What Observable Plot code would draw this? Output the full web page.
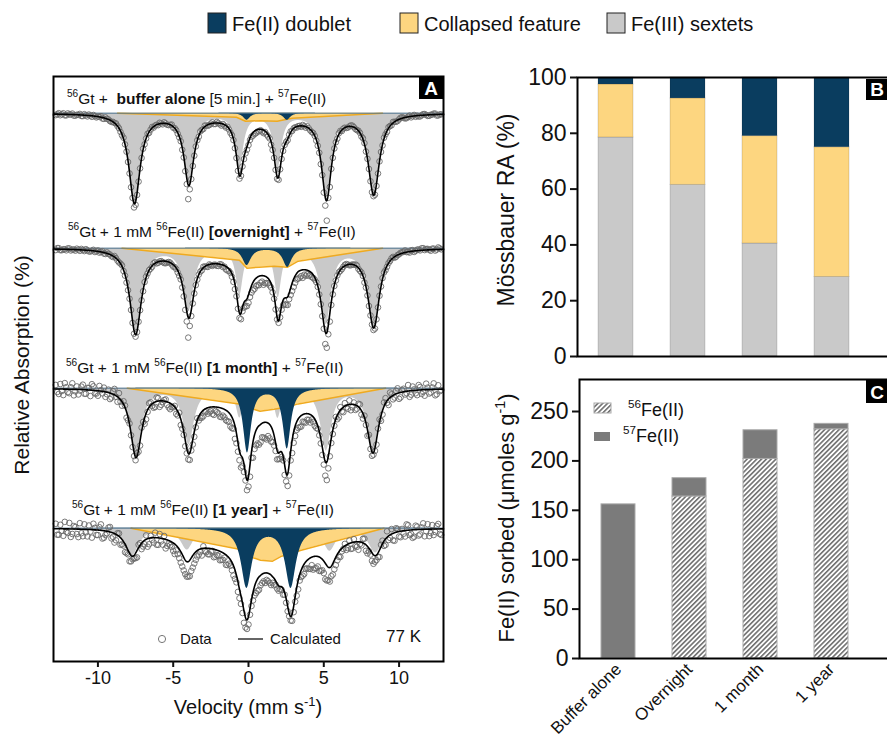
<!DOCTYPE html>
<html><head><meta charset="utf-8">
<script src="https://cdn.jsdelivr.net/npm/d3@7"></script>
<script src="https://cdn.jsdelivr.net/npm/@observablehq/plot@0.6"></script>
<style>
html,body{margin:0;padding:0;background:#fff;overflow:hidden;}
#root{position:relative;width:887px;height:739px;overflow:hidden;font-family:"Liberation Sans",Arial,sans-serif;color:#111;}
.plotbox{position:absolute;}
.plotbox svg{max-width:none;overflow:visible;display:block;}
</style></head><body><div id="root"></div>
<script>
// ---------------- DATA ----------------
const categories = ["Buffer alone", "Overnight", "1 month", "1 year"];
const componentNames = ["Fe(II) doublet", "Collapsed feature", "Fe(III) sextets"];

// Panel B: Mössbauer relative areas (%)
const raSextet = [78.5, 61.5, 40.5, 28.5];
const raCollapsed = [19, 31, 38.5, 46.5];
const raDoublet = [2.5, 7.5, 21, 25];
const raTicks = [0, 20, 40, 60, 80, 100];

// Panel C: Fe(II) sorbed (µmoles/g)
const isotopes = ["56Fe(II)", "57Fe(II)"];
const sorbed56 = [0, 164, 202, 232];
const sorbed57 = [156, 18.5, 29, 5.5];
const sorbedTicks = [0, 50, 100, 150, 200, 250];

// Panel A: Mössbauer spectra, fitted components (velocity mm/s, absorption %)
const velocityTicks = [-10, -5, 0, 5, 10];
const spectrumOffsets = [3.67, 17.17, 31.17, 45.17];
const sextetPos = [
  [-7.57, -3.96, -0.58, 1.95, 5.18, 8.32],
  [-7.5, -3.96, -0.58, 1.97, 5.16, 8.32],
  [-7.47, -3.96, -0.58, 1.95, 5.16, 8.27],
  [-7.72, -4.07, -0.6, 2.0, 5.4, 8.44]];
const sextetDepth = [
  [8.9, 6.8, 5.3, 5.3, 8.2, 8.0],
  [8.4, 6.1, 4.5, 4.7, 7.4, 7.7],
  [6.7, 5.5, 2.8, 2.8, 6.1, 6.1],
  [2.7, 2.1, 1.2, 1.2, 2.2, 2.4]];
const sextetWidth = [
  [0.9, 0.78, 0.62, 0.62, 0.78, 0.9],
  [0.92, 0.8, 0.55, 0.55, 0.8, 0.92],
  [0.9, 0.85, 0.55, 0.55, 0.85, 0.9],
  [1.1, 1.0, 0.65, 0.65, 1.0, 1.1]];
const doubletPos = [[-0.1, 2.57], [-0.1, 2.6], [-0.07, 2.57], [-0.11, 2.82]];
const doubletDepth = [[0.7, 0.7], [1.7, 1.9], [6.4, 6.0], [5.9, 5.9]];
const doubletWidth = [[0.55, 0.55], [0.7, 0.7], [0.63, 0.63], [0.85, 0.85]];
const collapsedV = [
  [-8.7, -0.8, -0.2, 0.8, 1.9, 2.9, 8.9],
  [-8.4, -0.6, -0.1, 0.7, 1.7, 2.6, 3.3, 8.9],
  [-8.05, -0.64, 0.1, 0.77, 1.7, 2.5, 3.31, 9.1],
  [-7.8, -0.7, 0.0, 0.8, 1.6, 2.2, 3.5, 9.0]];
const collapsedD = [
  [0, 0.4, 0.8, 0.75, 0.8, 0.5, 0],
  [0, 1.2, 2.0, 1.9, 1.8, 1.9, 1.3, 0],
  [0, 1.57, 2.0, 2.3, 2.1, 1.9, 1.57, 0],
  [0, 2.07, 2.8, 3.2, 3.3, 2.8, 2.2, 0]];

// measured channels (two interleaved halves): deviation of the data from the fit, in 0.1 % units
const channelsEven = {start: -12.8, step: 0.2, count: 129};
const channelsOdd = {start: -12.7, step: 0.2, count: 128};
const residualsEven = [
 [1,-1,0,1,-1,0,1,0,-1,1, 0,-1,1,0,0,-1,1,0,1,0, -1,0,1,0,1,2,4,2,0,-1, 0,1,-1,0,1,0,-1,1,0,1,
  0,1,2,4,14,3,1,0,-1,1, 0,1,-1,1,0,2,1,0,2,1, 2,3,1,2,3,2,3,2,1,3, 2,1,2,2,3,1,0,1,-1,0,
  1,0,-1,1,0,1,0,1,3,6, 20,6,1,0,-1,1,0,1,-1,0, 1,0,-1,1,0,2,2,1,0,-1, 1,0,-1,1,0,-1,1,0,1,-1,
  0,1,-1,0,1,0,-1,1,0],
 [1,-1,1,0,-1,1,0,-1,1,0, -1,1,0,1,-1,0,1,-1,0,1, 0,1,-1,1,2,1,3,1,0,1, -1,0,1,-1,1,0,2,1,0,2,
  1,2,3,8,20,6,2,1,0,-1, 1,0,2,1,2,0,1,3,2,4, 3,5,4,6,8,7,9,8,7,9, 6,5,4,3,2,4,6,8,7,8,
  6,7,8,6,5,4,2,1,3,5, 15,8,2,1,0,1,-1,0,1,0, -1,1,0,1,2,1,3,1,0,-1, 1,0,-1,1,0,-1,-2,0,-1,1,
  -1,0,-2,-1,0,-1,1,-2,0],
 [-4,5,2,-6,3,-2,6,-3,1,-5, 4,-2,-6,3,5,-1,-4,2,6,-3, 1,-5,4,-2,3,2,4,-3,5,-2, 6,-4,2,5,-3,4,-1,3,6,2,
  5,-2,4,6,6,3,5,-2,4,6, 3,5,7,4,6,9,8,10,12,8, 10,9,8,7,10,6,14,16,18,15, 17,14,12,8,6,5,10,12,9,11,
  8,10,7,9,6,4,7,3,5,9, 18,9,4,-2,5,3,-3,4,6,-2, 3,-4,5,2,-3,4,3,-2,5,-4, 2,-5,4,-3,6,-2,3,-6,4,-1,
  5,-3,2,-6,4,-2,6,-4,1],
 [-5,6,2,-7,4,8,-3,5,-6,7, 3,-4,8,-2,5,-6,7,2,-5,4, 6,-3,5,8,4,6,3,7,-2,5, -4,6,2,-5,7,3,-3,6,4,8,
  5,9,12,14,15,13,10,6,3,-2, 4,6,2,7,5,8,4,9,6,10, 7,9,10,10,8,6,9,12,10,8, 7,9,6,4,5,3,2,5,4,6,
  8,6,9,7,10,8,12,10,13,12, 15,14,11,8,5,3,-2,4,6,-3, 5,2,-4,6,3,8,6,4,-2,5, -6,3,7,-4,5,-2,6,-5,4,7,
  -3,5,-6,2,7,-4,3,-5,6]];
const residualsOdd = [
 [0,1,-1,1,0,-1,1,0,1,-1, 1,0,-1,1,0,1,-1,0,1,0, 0,1,-1,0,1,1,3,1,0,1, -1,0,1,0,-1,1,0,1,-1,0,
  1,0,1,6,5,1,0,1,0,-1, 1,0,1,-1,1,0,2,1,1,2, 3,2,2,3,2,3,3,2,2,1, 2,3,1,2,1,1,0,-1,1,0,
  0,1,0,-1,1,0,1,1,2,8, 4,1,0,1,-1,0,1,0,-1,1, 0,1,-1,0,1,1,2,0,1,0, -1,1,0,1,-1,0,1,-1,0,1,
  1,0,-1,1,0,-1,1,0],
 [-1,1,0,1,-1,0,1,0,-1,1, 0,1,-1,0,1,-1,1,0,1,-1, 1,0,1,2,1,2,2,0,1,-1, 0,1,-1,1,0,1,2,0,1,1,
  2,1,4,10,9,3,1,0,1,0, 2,1,1,2,0,2,3,2,3,5, 4,6,5,7,7,8,8,9,6,7, 5,4,3,2,3,5,7,6,8,7,
  7,6,5,4,3,3,1,2,4,12, 9,3,1,0,1,0,-1,1,0,-1, 1,0,2,1,1,2,2,0,-1,1, 0,-1,1,0,-1,-1,0,1,-1,0,
  -1,-2,0,-1,1,-1,0,-1],
 [3,-5,6,-2,4,-6,2,5,-3,4, -2,6,-4,3,-5,2,5,-3,4,-6, 5,2,-3,6,-1,4,3,2,-4,6, 2,-3,5,-4,6,1,-2,5,3,-1,
  4,6,3,5,7,5,2,4,6,3, 6,4,8,5,9,7,10,9,11,13, 9,12,8,10,12,16,15,19,14,16, 13,15,10,9,7,4,8,11,13,10,
  9,11,8,6,8,5,6,4,8,14, 12,5,2,4,-3,5,2,-4,3,5, -3,4,-2,6,3,2,5,-3,4,-5, 6,-2,3,-5,5,-3,2,6,-4,3,
  -5,4,6,-2,3,-6,5,2],
 [6,-4,7,3,-6,5,-2,8,4,-5, 7,2,-6,5,-3,8,4,-4,6,9, -2,7,4,6,8,3,5,-3,6,4, 8,-2,5,7,-4,6,9,3,5,10,
  7,11,13,15,16,12,8,5,7,3, 6,3,8,5,9,7,10,6,8,9, 10,8,12,9,6,8,11,13,9,10, 8,10,7,5,3,6,4,3,7,5,
  9,7,10,8,11,13,12,14,11,16, 13,10,9,6,7,2,5,-3,6,4, 8,3,-5,7,4,9,5,7,-3,6, 4,-5,8,-3,6,3,-6,5,8,-4,
  6,-2,7,-5,4,6,-3,5]];

const spectrumLabels = [
  [{t:"56",sup:1},{t:"Gt +  "},{t:"buffer alone",b:1},{t:" [5 min.] + "},{t:"57",sup:1},{t:"Fe(II)"}],
  [{t:"56",sup:1},{t:"Gt + 1 mM "},{t:"56",sup:1},{t:"Fe(II) "},{t:"[overnight]",b:1},{t:" + "},{t:"57",sup:1},{t:"Fe(II)"}],
  [{t:"56",sup:1},{t:"Gt + 1 mM "},{t:"56",sup:1},{t:"Fe(II) "},{t:"[1 month]",b:1},{t:" + "},{t:"57",sup:1},{t:"Fe(II)"}],
  [{t:"56",sup:1},{t:"Gt + 1 mM "},{t:"56",sup:1},{t:"Fe(II) "},{t:"[1 year]",b:1},{t:" + "},{t:"57",sup:1},{t:"Fe(II)"}]];

// ---------------- STYLE ----------------
const NAVY = "#0a3d5f", YELLOW = "#fdd680", ORANGE = "#f0aa1e", GRAY = "#c9c9c9", SOLID = "#7b7b7b";
const FONT = '"Liberation Sans", Arial, sans-serif';
const baseStyle = `background:transparent;max-width:none;overflow:visible;font-family:${FONT};font-size:18px;color:#111;`;

const root = d3.select("#root");
function place(node, left, top) {
  root.append("div").attr("class", "plotbox").style("left", left + "px").style("top", top + "px").node().appendChild(node);
}

// ---------------- PANEL A ----------------
const lor = (v, p, d, w) => d / (1 + ((v - p) / (w / 2)) ** 2);
function piecewise(v, xs, ys) {
  if (v <= xs[0] || v >= xs[xs.length - 1]) return 0;
  const i = d3.bisectRight(xs, v) - 1;
  const t = (v - xs[i]) / (xs[i + 1] - xs[i]);
  return ys[i] + t * (ys[i + 1] - ys[i]);
}
function model(s, v) {
  const sext = d3.sum(sextetPos[s], (p, k) => lor(v, p, sextetDepth[s][k], sextetWidth[s][k]));
  const doub = d3.sum(doubletPos[s], (p, k) => lor(v, p, doubletDepth[s][k], doubletWidth[s][k]));
  const coll = piecewise(v, collapsedV[s], collapsedD[s]);
  return {sext, doub, coll, total: sext + doub + coll};
}
const fineGrid = d3.range(-12.95, 12.9501, 0.02);
const modelRows = [], collRows = [], dataRows = [];
spectrumOffsets.forEach((base, s) => {
  fineGrid.forEach(v => modelRows.push({s, v, base, ...model(s, v)}));
  collapsedV[s].forEach((v, k) => collRows.push({s, v, base, d: collapsedD[s][k]}));
  [[channelsEven, residualsEven], [channelsOdd, residualsOdd]].forEach(([ch, res]) => {
    for (let i = 0; i < ch.count; i++) {
      const v = ch.start + ch.step * i;
      dataRows.push({s, v, y: base + model(s, v).total + (res[s][i] ?? 0) / 10});
    }
  });
});

const plotA = Plot.plot({
  width: 470, height: 679, marginLeft: 53, marginRight: 27, marginTop: 16, marginBottom: 78,
  style: baseStyle,
  x: {domain: [-12.95, 12.95]},
  y: {domain: [0, 58.5], reverse: true, axis: null},
  marks: [
    Plot.areaY(modelRows, {x: "v", y1: "base", y2: d => d.base + d.sext, z: "s", fill: GRAY}),
    Plot.areaY(collRows, {x: "v", y1: "base", y2: d => d.base + d.d, z: "s", fill: YELLOW}),
    Plot.lineY(collRows, {x: "v", y: d => d.base + d.d, z: "s", stroke: ORANGE, strokeWidth: 1.5}),
    Plot.areaY(modelRows, {x: "v", y1: "base", y2: d => d.base + d.doub, z: "s", fill: NAVY}),
    Plot.ruleY(spectrumOffsets, {stroke: "#4f7590", strokeWidth: 1}),
    Plot.dot(dataRows, {x: "v", y: "y", r: 2.8, stroke: "#6a6a6a", strokeWidth: 0.9, fill: "none"}),
    Plot.lineY(modelRows, {x: "v", y: d => d.base + d.total, z: "s", stroke: "#000", strokeWidth: 1.6}),
    Plot.frame({stroke: "#000", strokeWidth: 2}),
    Plot.axisX(velocityTicks, {tickSize: 6, tickPadding: 4, tickFormat: d => String(d), fontSize: 18, strokeWidth: 2, label: null})
  ]
});
place(plotA, 0, 60);

// ---------------- PANEL B ----------------
const bRows = categories.flatMap((c, i) => [
  {cat: c, comp: "Fe(III) sextets", v: raSextet[i]},
  {cat: c, comp: "Collapsed feature", v: raCollapsed[i]},
  {cat: c, comp: "Fe(II) doublet", v: raDoublet[i]}]);
const plotB = Plot.plot({
  width: 430, height: 300, marginLeft: 107, marginRight: 11, marginTop: 17, marginBottom: 4,
  style: baseStyle,
  x: {type: "band", domain: categories, paddingInner: 0.51, paddingOuter: 0.41, align: 0.34, axis: null},
  y: {domain: [0, 100]},
  color: {domain: ["Fe(III) sextets", "Collapsed feature", "Fe(II) doublet"], range: [GRAY, YELLOW, NAVY]},
  marks: [
    Plot.barY(bRows, Plot.stackY({x: "cat", y: "v", fill: "comp", order: ["Fe(III) sextets", "Collapsed feature", "Fe(II) doublet"], stroke: "#00000022", strokeWidth: 1})),
    Plot.frame({stroke: "#000", strokeWidth: 2}),
    Plot.axisY(raTicks, {tickSize: 7, tickPadding: 4, fontSize: 23, strokeWidth: 2, label: null})
  ]
});
place(plotB, 470, 60);

// ---------------- PANEL C ----------------
const cRows = categories.flatMap((c, i) => [
  {cat: c, iso: isotopes[0], v: sorbed56[i]},
  {cat: c, iso: isotopes[1], v: sorbed57[i]}]);
const plotC = Plot.plot({
  width: 430, height: 379, marginLeft: 109, marginRight: 11, marginTop: 19, marginBottom: 81,
  style: baseStyle,
  x: {type: "band", domain: categories, paddingInner: 0.517, paddingOuter: 0.4265, align: 0.357},
  y: {domain: [0, 282.4]},
  color: {domain: isotopes, range: ["url(#hatch56)", SOLID]},
  marks: [
    Plot.barY(cRows, Plot.stackY({x: "cat", y: "v", fill: "iso", order: isotopes, stroke: "#aaaaaa", strokeWidth: 1})),
    Plot.frame({stroke: "#000", strokeWidth: 2}),
    Plot.axisY(sorbedTicks, {tickSize: 7, tickPadding: 4, fontSize: 23, strokeWidth: 2, label: null}),
    Plot.axisX({tickSize: 0, tickRotate: -45, tickPadding: 8, fontSize: 17, label: null})
  ]
});
place(plotC, 470, 360);

// ---------------- OVERLAY TEXT / LEGENDS ----------------
const ov = d3.create("svg").attr("width", 887).attr("height", 739)
  .style("position", "absolute").style("left", "0px").style("top", "0px")
  .style("pointer-events", "none").style("font-family", FONT);
const pat = ov.append("defs").append("pattern").attr("id", "hatch56")
  .attr("patternUnits", "userSpaceOnUse").attr("width", 3.4).attr("height", 3.4)
  .attr("patternTransform", "rotate(45)");
pat.append("rect").attr("width", 3.4).attr("height", 3.4).attr("fill", "#fff");
pat.append("line").attr("x1", 0.8).attr("y1", 0).attr("x2", 0.8).attr("y2", 3.4).attr("stroke", "#6f6f6f").attr("stroke-width", 1.6);

function rich(parent, x, y, size, segs, anchor = "start") {
  const t = parent.append("text").attr("x", x).attr("y", y).attr("font-size", size)
    .attr("text-anchor", anchor).attr("fill", "#111").style("white-space", "pre");
  let cur = 0;
  segs.forEach(sg => {
    const ts = t.append("tspan").text(sg.t);
    const target = sg.sup ? -0.42 * size : 0;
    ts.attr("dy", target - cur);
    cur = target;
    if (sg.sup) ts.attr("font-size", size * 0.65);
    if (sg.b) ts.attr("font-weight", "bold");
  });
  return t;
}

// top legend
const legendX = [208, 400, 607];
const legendFill = [NAVY, YELLOW, GRAY];
componentNames.forEach((n, i) => {
  ov.append("rect").attr("x", legendX[i]).attr("y", 13).attr("width", 18).attr("height", 20)
    .attr("fill", legendFill[i]).attr("stroke", "#222").attr("stroke-width", 1);
  ov.append("text").attr("x", legendX[i] + 24).attr("y", 30.5).attr("font-size", 20).attr("fill", "#111").text(n);
});

// spectrum labels
const labelPos = [[67, 104], [68, 237], [66, 373], [72, 515]];
spectrumLabels.forEach((segs, i) => rich(ov, labelPos[i][0], labelPos[i][1], 15.5, segs));

// panel A legend
ov.append("circle").attr("cx", 162).attr("cy", 639).attr("r", 3.6).attr("fill", "none").attr("stroke", "#777").attr("stroke-width", 1);
ov.append("text").attr("x", 180).attr("y", 644).attr("font-size", 15).attr("fill", "#111").text("Data");
ov.append("line").attr("x1", 238).attr("x2", 263).attr("y1", 639).attr("y2", 639).attr("stroke", "#333").attr("stroke-width", 1.5);
ov.append("text").attr("x", 270).attr("y", 644).attr("font-size", 15).attr("fill", "#111").text("Calculated");
ov.append("text").attr("x", 386).attr("y", 642).attr("font-size", 17).attr("fill", "#111").text("77 K");

// axis titles
rich(ov, 248, 714, 20, [{t: "Velocity (mm s"}, {t: "-1", sup: 1}, {t: ")"}], "middle");
const gA = ov.append("g").attr("transform", "translate(29,365) rotate(-90)");
rich(gA, 0, 0, 21, [{t: "Relative Absorption (%)"}], "middle");
const gB = ov.append("g").attr("transform", "translate(514,210) rotate(-90)");
rich(gB, 0, 0, 23, [{t: "Mössbauer RA (%)"}], "middle");
const gC = ov.append("g").attr("transform", "translate(514,518) rotate(-90)");
rich(gC, 0, 0, 22, [{t: "Fe(II) sorbed (μmoles g"}, {t: "-1", sup: 1}, {t: ")"}], "middle");

// panel C legend
ov.append("rect").attr("x", 594).attr("y", 403).attr("width", 17).attr("height", 10).attr("fill", "url(#hatch56)").attr("stroke", "#aaa");
ov.append("rect").attr("x", 594).attr("y", 432).attr("width", 16).attr("height", 9).attr("fill", SOLID);
rich(ov, 628, 416, 18, [{t: "56", sup: 1}, {t: "Fe(II)"}]);
rich(ov, 623, 442, 18, [{t: "57", sup: 1}, {t: "Fe(II)"}]);

// panel letters
[["A", 419, 77, 24, 22, 431, 95], ["B", 866, 79, 30, 21, 877, 96], ["C", 866, 379, 30, 24, 877, 399]].forEach(([L, x, y, w, h, tx, ty]) => {
  ov.append("rect").attr("x", x).attr("y", y).attr("width", w).attr("height", h).attr("fill", "#000");
  ov.append("text").attr("x", tx).attr("y", ty).attr("font-size", 19).attr("font-weight", "bold")
    .attr("text-anchor", "middle").attr("fill", "#fff").text(L);
});

root.node().appendChild(ov.node());
</script></body></html>
